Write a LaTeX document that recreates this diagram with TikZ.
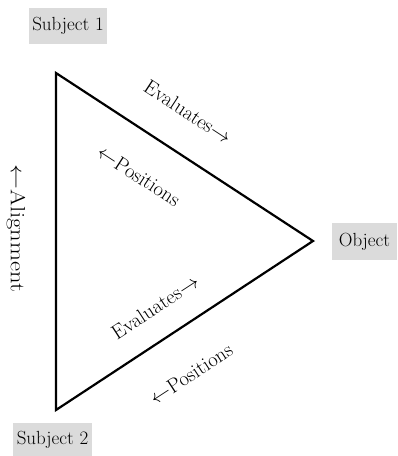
\documentclass[tikz,border=0pt]{standalone}
\usepackage{graphicx}
\begin{document}
\begin{tikzpicture}[x=1pt,y=-1pt,
  lab/.style={font=\fontsize{20.5}{22}\selectfont, inner sep=0pt},
  gbox/.style={fill=black!14, font=\fontsize{19}{21}\selectfont, inner sep=0pt, text height=13.5pt, text depth=4pt},
  edge/.style={line width=2.2pt, line join=miter}]
\useasboundingbox (0,0) rectangle (398,456);
\coordinate (A) at (56,73);
\coordinate (B) at (313,241);
\coordinate (C) at (56,410);
\draw[edge] (A) -- (B) -- (C) -- cycle;
\node[gbox, minimum width=78pt, minimum height=36pt] (s1) at (68,26) {Subject 1};
\node[gbox, minimum width=65pt, minimum height=37pt] (obj) at (364.5,241.5) {Object};
\node[gbox, minimum width=79pt, minimum height=34pt] (s2) at (52.5,440) {Subject 2};
\node[lab, rotate=-90] (al) at (16,228) {\scalebox{1.2}[1]{$\leftarrow$Alignment}};
\node[lab, rotate=-33.2] (ev1) at (188,112) {Evaluates$\rightarrow$};
\node[lab, rotate=-33.2] (po1) at (139,176) {$\leftarrow$Positions};
\node[lab, rotate=33.1] (ev2) at (155,307) {Evaluates$\rightarrow$};
\node[lab, rotate=33.1] (po2) at (191,374) {$\leftarrow$Positions};
\end{tikzpicture}
\end{document}
